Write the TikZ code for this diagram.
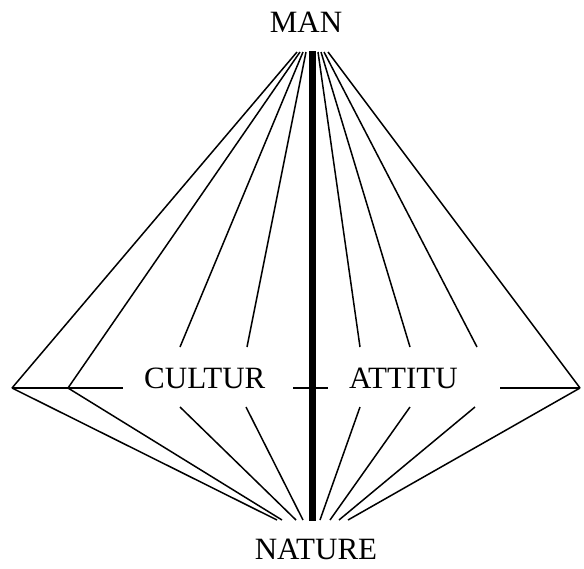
\documentclass[tikz,border=0pt]{standalone}
\usepackage{fontspec}
\setmainfont{Liberation Serif}
\begin{document}
\begin{tikzpicture}[x=1pt,y=-1pt,
  thin line/.style={line width=1.5pt,black},
  thick line/.style={line width=7pt,black},
  label/.style={font=\fontsize{31}{31}\selectfont,inner sep=0pt}]
\useasboundingbox (0,0) rectangle (584,568);
% text nodes
\node[label,anchor=base] (man) at (306,32) {MAN};
\node[label,anchor=base] (nature) at (316,559) {NATURE};
\node[label,anchor=base west] (cultur) at (144,388) {CULTUR};
\node[label,anchor=base west] (attitu) at (349,388) {ATTITU};
% apex coordinates
\coordinate (t1) at (297,52);
\coordinate (t2) at (300,52);
\coordinate (t3) at (303,52);
\coordinate (t4) at (306,52);
\coordinate (t5) at (318,52);
\coordinate (t6) at (321,52);
\coordinate (t7) at (324,52);
\coordinate (t8) at (328,52);
\coordinate (tc) at (312,51);
\coordinate (b1) at (277,520);
\coordinate (b2) at (282,520);
\coordinate (b3) at (296,520);
\coordinate (b4) at (303,520);
\coordinate (b5) at (320,520);
\coordinate (b6) at (330,520);
\coordinate (b7) at (339,520);
\coordinate (b8) at (348,520);
\coordinate (bc) at (312,521);
% side points
\coordinate (L1) at (12,388);
\coordinate (L2) at (68,388);
\coordinate (L2e) at (123,388);
\coordinate (R1) at (580,388);
\coordinate (R1e) at (500,388);
\coordinate (m1) at (293,388);
\coordinate (m2) at (328,388);
% inner line ends above and below the text
\coordinate (ua) at (180,347);
\coordinate (ub) at (247,347);
\coordinate (uc) at (360,347);
\coordinate (ud) at (410,347);
\coordinate (ue) at (477,347);
\coordinate (la) at (180,407);
\coordinate (lb) at (246,407);
\coordinate (lc) at (360,407);
\coordinate (ld) at (410,407);
\coordinate (le) at (475,407);
% thick axis
\draw[thick line] (tc) -- (bc);
% top fan
\draw[thin line] (t1) -- (L1);
\draw[thin line] (t2) -- (L2);
\draw[thin line] (t3) -- (ua);
\draw[thin line] (t4) -- (ub);
\draw[thin line] (t5) -- (uc);
\draw[thin line] (t6) -- (ud);
\draw[thin line] (t7) -- (ue);
\draw[thin line] (t8) -- (R1);
% bottom fan
\draw[thin line] (L1) -- (b1);
\draw[thin line] (L2) -- (b2);
\draw[thin line] (la) -- (b3);
\draw[thin line] (lb) -- (b4);
\draw[thin line] (lc) -- (b5);
\draw[thin line] (ld) -- (b6);
\draw[thin line] (le) -- (b7);
\draw[thin line] (R1) -- (b8);
% horizontals
\draw[thin line] (L1) -- (L2e);
\draw[thin line] (m1) -- (m2);
\draw[thin line] (R1e) -- (R1);
\end{tikzpicture}
\end{document}
